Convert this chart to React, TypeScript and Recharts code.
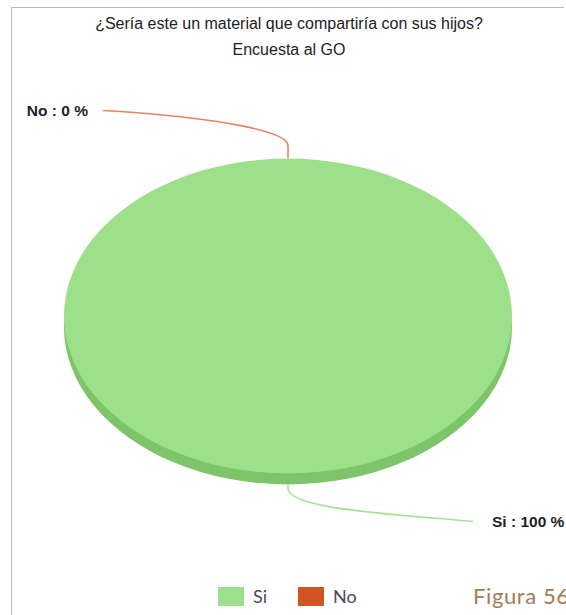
import { PieChart, Pie, Cell, Legend } from "recharts";

const categories = ["Si", "No"];
const shares = [100, 0];
const topColors = ["#9CE08A", "#D35322"];
const sideColors = ["#7DC46B", "#A8401A"];
const leaderColors = ["#A4E293", "#E4835F"];

const titleLines = ["¿Sería este un material que compartiría con sus hijos?", "Encuesta al GO"];
const caption = "Figura 56";

const data = categories.map((name, i) => ({ name, value: shares[i] }));

const CX = 288;
const CY = 316;
const R = 224;
const SQUASH = 0.703;
const DEPTH = 11;
const RAD = Math.PI / 180;

const css = `
.pie-top .recharts-pie-sector { transform-origin: ${CX}px ${CY}px; transform: scaleY(${SQUASH}); }
.pie-side .recharts-pie-sector { transform-origin: ${CX}px ${CY + DEPTH}px; transform: scaleY(${SQUASH}); }
`;

function renderLabel(props: any) {
  const { cx, cy, outerRadius, midAngle, name, percent, index } = props;
  const ry = outerRadius * SQUASH;
  const onTop = Math.sin(midAngle * RAD) > 0;
  const color = leaderColors[index] ?? "#999";
  const text = `${name} : ${Math.round(percent * 100)} %`;
  if (onTop) {
    const y0 = cy - ry;
    const ex = cx - 185;
    const ey = y0 - 48;
    return (
      <g key={`lbl-${index}`}>
        <path
          d={`M${cx},${y0} L${cx},${y0 - 13} C${cx},${y0 - 27} ${cx - 68},${y0 - 41} ${ex},${ey}`}
          stroke={color}
          strokeWidth={1.6}
          fill="none"
        />
        <text x={ex - 15} y={ey} textAnchor="end" dominantBaseline="central"
          fontFamily="'Liberation Sans', Arial, sans-serif" fontWeight="bold" fontSize={15.5} fill="#1e1e28">
          {text}
        </text>
      </g>
    );
  }
  const y0 = cy + ry + DEPTH;
  const ex = cx + 185;
  const ey = y0 + 37;
  return (
    <g key={`lbl-${index}`}>
      <path
        d={`M${cx},${y0} L${cx},${y0 + 4} C${cx},${y0 + 25} ${cx + 112},${y0 + 30} ${ex},${ey}`}
        stroke={color}
        strokeWidth={1.6}
        fill="none"
      />
      <text x={ex + 19} y={ey} textAnchor="start" dominantBaseline="central"
        fontFamily="'Liberation Sans', Arial, sans-serif" fontWeight="bold" fontSize={15.5} fill="#1e1e28">
        {text}
      </text>
    </g>
  );
}

function LegendContent(props: any) {
  const raw = (props.payload || []).filter((it: any) => topColors.includes(it.color));
  const items = categories
    .map((c) => raw.find((it: any) => it.value === c))
    .filter(Boolean);
  return (
    <div style={{ display: "flex", alignItems: "center" }}>
      {items.map((it: any) => (
        <div key={it.value} style={{ display: "flex", alignItems: "center", marginRight: 31 }}>
          <span style={{ width: 26, height: 19, background: it.color, display: "inline-block", marginRight: 9 }} />
          <span style={{ fontFamily: "Lato, 'Open Sans', sans-serif", fontSize: 18, color: "#4a4a5c" }}>{it.value}</span>
        </div>
      ))}
    </div>
  );
}

export default function App() {
  return (
    <div style={{ position: "absolute", left: 0, top: 0, width: 566, height: 615, overflow: "hidden", background: "#fff" }}>
      <style>{css}</style>
      <div style={{ position: "absolute", left: 11, top: 7, width: 552, height: 620, borderLeft: "1px solid #b8b8b8", borderTop: "1px solid #b8b8b8" }} />
      <div style={{ position: "absolute", left: 0, top: 11, width: 578, textAlign: "center", fontFamily: "'Liberation Sans', Arial, sans-serif", fontSize: 16, lineHeight: "26px", color: "#222" }}>
        {titleLines.map((t) => (
          <div key={t}>{t}</div>
        ))}
      </div>
      <PieChart width={566} height={615} margin={{ top: 0, right: 0, bottom: 0, left: 0 }}>
        <Pie
          className="pie-side"
          data={data}
          dataKey="value"
          nameKey="name"
          cx={CX}
          cy={CY + DEPTH}
          outerRadius={R}
          startAngle={90}
          endAngle={-270}
          stroke="none"
          label={false}
          labelLine={false}
          legendType="none"
          isAnimationActive={false}
        >
          {data.map((d, i) => (
            <Cell key={d.name} fill={sideColors[i]} />
          ))}
        </Pie>
        <Pie
          className="pie-top"
          data={data}
          dataKey="value"
          nameKey="name"
          cx={CX}
          cy={CY}
          outerRadius={R}
          startAngle={90}
          endAngle={-270}
          stroke="none"
          label={renderLabel}
          labelLine={false}
          legendType="rect"
          isAnimationActive={false}
        >
          {data.map((d, i) => (
            <Cell key={d.name} fill={topColors[i]} />
          ))}
        </Pie>
        <Legend
          content={<LegendContent />}
          wrapperStyle={{ position: "absolute", left: 218, top: 585, width: "auto", bottom: "auto" }}
        />
      </PieChart>
      <div style={{ position: "absolute", left: 473, top: 582, fontFamily: "Lato, 'Open Sans', sans-serif", fontSize: 22, letterSpacing: 0.6, color: "#A67C52", whiteSpace: "nowrap" }}>
        {caption}
      </div>
    </div>
  );
}
